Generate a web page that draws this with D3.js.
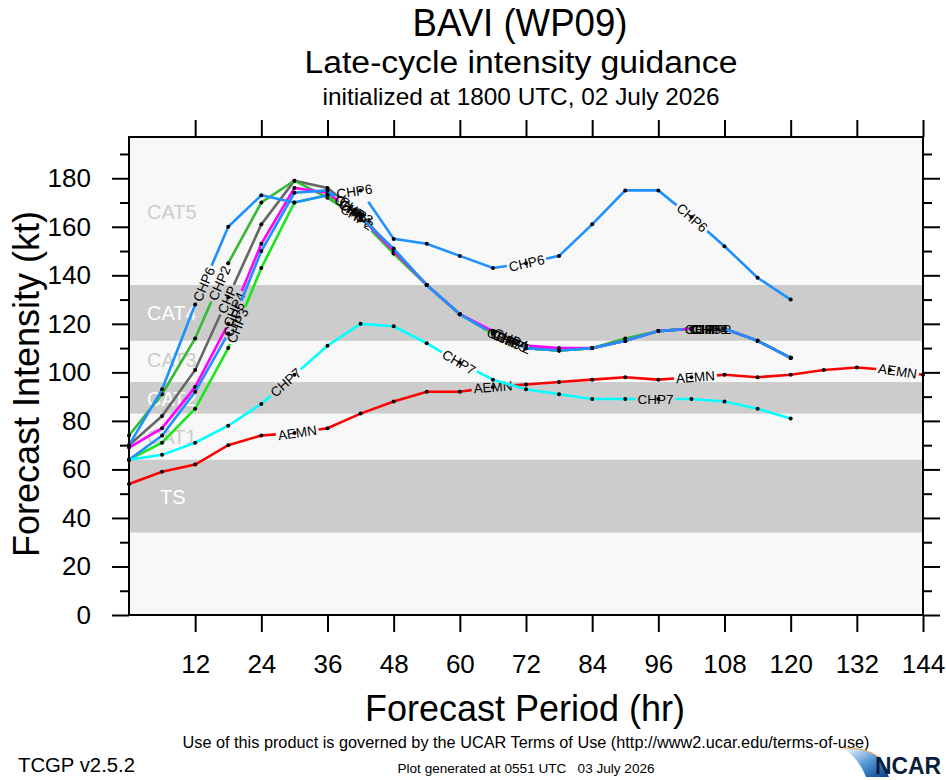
<!DOCTYPE html>
<html>
<head>
<meta charset="utf-8">
<script src="https://cdn.jsdelivr.net/npm/d3@7"></script>
<style>
  body { margin: 0; background: #fff; overflow: hidden; }
  svg { display: block; font-family: "Liberation Sans", Arial, Helvetica, sans-serif; }
  text { white-space: pre; }
</style>
</head>
<body>
<div id="chart"></div>
<script>
// forecast hours
const hours = [0, 6, 12, 18, 24, 30, 36, 42, 48, 54, 60, 66, 72, 78, 84, 90, 96, 102, 108, 114, 120];
const hoursLong = [0, 6, 12, 18, 24, 30, 36, 42, 48, 54, 60, 66, 72, 78, 84, 90, 96, 102, 108, 114, 120, 126, 132, 138, 144];

// intensity (kt)
const chp  = [70, 82, 101, 131, 161, 179, 176, 165, 150, 136, 124, 116, 110, 109, 110, 113, 117, 118, 118, 113, 106];
const chp2 = [74, 91, 114, 145, 170, 179, 172, 163, 149, 136, 124, 116, 110, 109, 110, 114, 117, 118, 118, 113, 106];
const chp3 = [64, 71, 85, 110, 143, 170, 173, 165, 149, 136, 124, 116, 110, 109, 110, 113, 117, 118, 118, 113, 106];
const chp4 = [69, 77, 94, 120, 153, 176, 174, 164, 150, 136, 124, 117, 111, 110, 110, 113, 117, 118, 118, 113, 106];
const chp5 = [64, 74, 92, 116, 150, 174, 175, 164, 151, 136, 124, 116, 110, 109, 110, 113, 117, 118, 118, 113, 106];
const chp6 = [70, 93, 128, 160, 173, 170, 173, 175, 155, 153, 148, 143, 145, 148, 161, 175, 175, 164, 152, 139, 130];
const chp7 = [64, 66, 71, 78, 87, 99, 111, 120, 119, 112, 104, 97, 93, 91, 89, 89, 89, 89, 88, 85, 81];
const aemn = [54, 59, 62, 70, 74, 75, 77, 83, 88, 92, 92, 94, 95, 96, 97, 98, 97, 98, 99, 98, 99, 101, 102, 101, 99];

const xTicks = [12, 24, 36, 48, 60, 72, 84, 96, 108, 120, 132, 144];
const yTicks = [0, 20, 40, 60, 80, 100, 120, 140, 160, 180];
const yMinor = [10, 30, 50, 70, 90, 110, 130, 150, 170, 190];

// Saffir-Simpson bands
const bandNames = ['TS', 'CAT1', 'CAT2', 'CAT3', 'CAT4', 'CAT5'];
const bandLo = [34, 64, 83, 96, 113, 136];
const bandHi = [64, 83, 96, 113, 136, 197];
const bandMid = [48.7, 73.5, 89, 105, 124.7, 166];

const series = [
    {name: 'AEMN', hrs: hoursLong, vals: aemn, color: '#ff0000'},
    {name: 'CHP', hrs: hours, vals: chp, color: '#666666'},
    {name: 'CHP2', hrs: hours, vals: chp2, color: '#33bb33'},
    {name: 'CHP3', hrs: hours, vals: chp3, color: '#18e818'},
    {name: 'CHP4', hrs: hours, vals: chp4, color: '#ff00ff'},
    {name: 'CHP5', hrs: hours, vals: chp5, color: '#1e90ff'},
    {name: 'CHP6', hrs: hours, vals: chp6, color: '#1e90ff'},
    {name: 'CHP7', hrs: hours, vals: chp7, color: '#00ffff'}
];

const W = 946, H = 780;
const pLeft = 129, pRight = 923, pTop = 137, pBottom = 615;

const svg = d3.select('#chart').append('svg').attr('width', W).attr('height', H);

const x = d3.scaleLinear().domain([0, 144]).range([pLeft, pRight]);
const y = d3.scaleLinear().domain([0, 197]).range([pBottom, pTop]);

// plot background and bands
svg.append('rect').attr('x', pLeft).attr('y', pTop).attr('width', pRight - pLeft).attr('height', pBottom - pTop).attr('fill', '#f8f8f8');
svg.selectAll('.band').data(bandNames).enter().append('rect')
    .attr('x', pLeft).attr('width', pRight - pLeft)
    .attr('y', (d, i) => y(bandHi[i]))
    .attr('height', (d, i) => y(bandLo[i]) - y(bandHi[i]))
    .attr('fill', (d, i) => i % 2 === 0 ? '#cccccc' : 'none');
svg.selectAll('.bandlabel').data(bandNames).enter().append('text')
    .attr('x', d => d === 'TS' ? 160 : 147)
    .attr('y', (d, i) => y(bandMid[i]))
    .attr('dy', '0.36em')
    .attr('font-size', 20)
    .attr('fill', (d, i) => i % 2 === 0 ? '#ffffff' : '#cccccc')
    .text(d => d);

// lines with inline labels (line broken where the label sits)
const labelFirst = 178, labelStep = 203;
series.forEach(s => {
    const pts = s.hrs.map((h, i) => [x(h), y(s.vals[i])]);
    const cum = [0];
    for (let i = 1; i < pts.length; i++) {
        cum.push(cum[i - 1] + Math.hypot(pts[i][0] - pts[i - 1][0], pts[i][1] - pts[i - 1][1]));
    }
    const total = cum[cum.length - 1];
    const g = svg.append('g');
    const path = g.append('path').attr('d', d3.line()(pts))
        .attr('fill', 'none').attr('stroke', s.color).attr('stroke-width', 2.6);

    const dashes = [];
    let pos = 0;
    for (let sPos = labelFirst; ; sPos += labelStep) {
        const t = g.append('text').attr('font-size', 13.5).attr('text-anchor', 'middle')
            .attr('dy', '0.36em').text(s.name);
        const w = t.node().getComputedTextLength();
        const half = w / 2 + 2;
        if (sPos + half > total) { t.remove(); break; }
        let k = 1;
        while (k < cum.length - 1 && cum[k] < sPos) k++;
        const a = pts[k - 1], b = pts[k];
        const f = (sPos - cum[k - 1]) / (cum[k] - cum[k - 1]);
        const px = a[0] + f * (b[0] - a[0]), py = a[1] + f * (b[1] - a[1]);
        let ang = Math.atan2(b[1] - a[1], b[0] - a[0]) * 180 / Math.PI;
        if (ang > 90) ang -= 180;
        if (ang < -90) ang += 180;
        t.attr('transform', `translate(${px},${py}) rotate(${ang})`);
        dashes.push(sPos - half - pos, 2 * half);
        pos = sPos + half;
    }
    if (dashes.length) {
        dashes.push(total - pos + 10, total + 10);
        path.attr('stroke-dasharray', dashes.join(' '));
    }
    g.selectAll('circle').data(pts).enter().append('circle')
        .attr('cx', d => d[0]).attr('cy', d => d[1]).attr('r', 2).attr('fill', '#000');
});

// frame and axes
svg.append('rect').attr('x', pLeft).attr('y', pTop).attr('width', pRight - pLeft).attr('height', pBottom - pTop)
    .attr('fill', 'none').attr('stroke', '#000').attr('stroke-width', 2);

const xb = svg.append('g').attr('transform', `translate(0, ${pBottom})`)
    .call(d3.axisBottom(x).tickValues(xTicks).tickSize(17).tickPadding(23).tickSizeOuter(0));
const xt = svg.append('g').attr('transform', `translate(0, ${pTop})`)
    .call(d3.axisTop(x).tickValues(xTicks).tickSize(17).tickFormat('').tickSizeOuter(0));
const yl = svg.append('g').attr('transform', `translate(${pLeft}, 0)`)
    .call(d3.axisLeft(y).tickValues(yTicks).tickSize(17).tickPadding(21).tickSizeOuter(0));
const ylm = svg.append('g').attr('transform', `translate(${pLeft}, 0)`)
    .call(d3.axisLeft(y).tickValues(yMinor).tickSize(9).tickFormat('').tickSizeOuter(0));
const yr = svg.append('g').attr('transform', `translate(${pRight}, 0)`)
    .call(d3.axisRight(y).tickValues(yTicks).tickSize(17).tickFormat('').tickSizeOuter(0));
const yrm = svg.append('g').attr('transform', `translate(${pRight}, 0)`)
    .call(d3.axisRight(y).tickValues(yMinor).tickSize(9).tickFormat('').tickSizeOuter(0));
[xb, xt, yl, ylm, yr, yrm].forEach(a => {
    a.select('.domain').remove();
    a.selectAll('line').attr('stroke-width', 2);
    a.selectAll('text').attr('font-size', 26).attr('fill', '#000')
        .style('font-family', '"Liberation Sans", Arial, Helvetica, sans-serif');
});

// titles
function addText(txt, cx, cy, size, len, anchor) {
    const t = svg.append('text').attr('x', cx).attr('y', cy).attr('font-size', size)
        .attr('text-anchor', anchor || 'middle').text(txt);
    if (len) t.attr('textLength', len).attr('lengthAdjust', 'spacingAndGlyphs');
    return t;
}
addText('BAVI (WP09)', 520, 36, 38, 215);
addText('Late-cycle intensity guidance', 521, 73, 31, 433);
addText('initialized at 1800 UTC, 02 July 2026', 521, 105, 24, 397);
addText('Forecast Period (hr)', 525, 721, 36);
svg.append('text').attr('transform', 'translate(39, 384) rotate(-90)')
    .attr('text-anchor', 'middle').attr('font-size', 36).text('Forecast Intensity (kt)');
addText('Use of this product is governed by the UCAR Terms of Use (http://www2.ucar.edu/terms-of-use)', 526, 748, 16, 687);
addText('TCGP v2.5.2', 18, 772, 20, 117, 'start');
addText('Plot generated at 0551 UTC   03 July 2026', 526, 773, 13, 257);

// NCAR logo
const grad = svg.append('defs').append('linearGradient').attr('id', 'ncarGrad')
    .attr('x1', '0%').attr('y1', '0%').attr('x2', '100%').attr('y2', '100%');
grad.append('stop').attr('offset', '0%').attr('stop-color', '#ffffff');
grad.append('stop').attr('offset', '55%').attr('stop-color', '#4a90d0');
grad.append('stop').attr('offset', '100%').attr('stop-color', '#0a3c8c');
svg.append('path').attr('d', 'M843,748 Q866,747 880,758 L889,777 L866,777 Q860,760 843,748 Z').attr('fill', 'url(#ncarGrad)');
svg.append('path').attr('d', 'M843,748 Q866,747 880,758').attr('fill', 'none').attr('stroke', '#f0a040').attr('stroke-width', 1);
svg.append('text').attr('x', 875).attr('y', 774).attr('font-size', 24).attr('font-weight', 'bold')
    .attr('fill', '#0a1e3c').attr('textLength', 66).attr('lengthAdjust', 'spacingAndGlyphs').text('NCAR');
</script>
</body>
</html>
